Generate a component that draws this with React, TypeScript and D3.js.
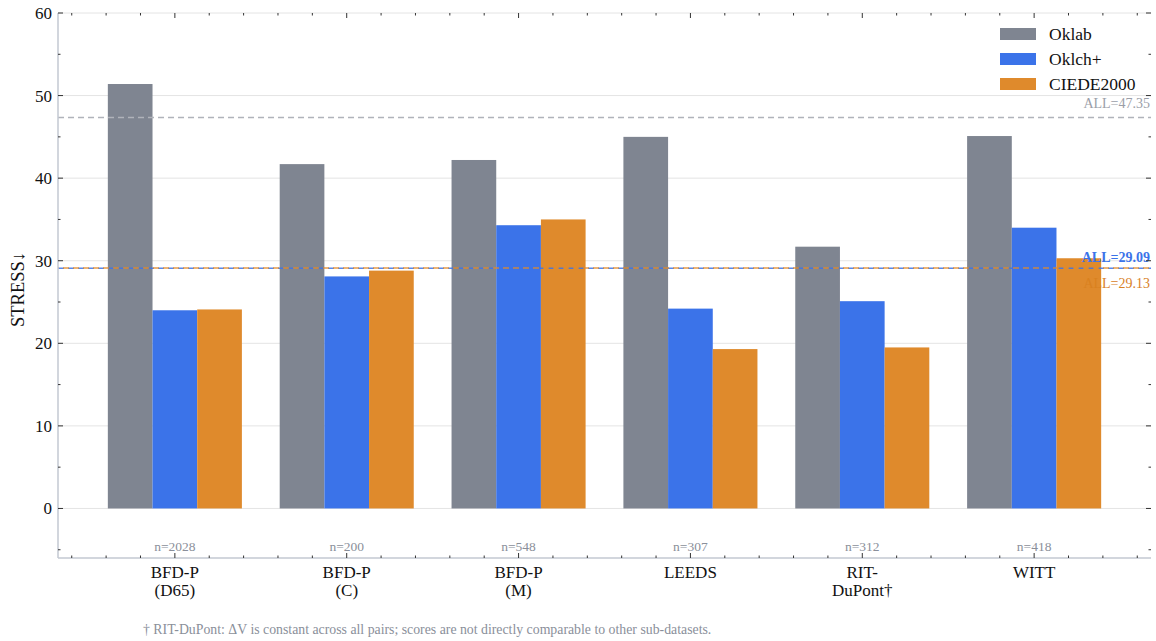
import React from "react";
import * as d3 from "d3";

const categories = ["BFD-P\n(D65)", "BFD-P\n(C)", "BFD-P\n(M)", "LEEDS", "RIT-\nDuPont†", "WITT"];
const counts = ["n=2028", "n=200", "n=548", "n=307", "n=312", "n=418"];
const seriesNames = ["Oklab", "Oklch+", "CIEDE2000"];
const oklab = [51.4, 41.7, 42.2, 45.0, 31.7, 45.1];
const oklch = [24.0, 28.1, 34.3, 24.2, 25.1, 34.0];
const ciede = [24.1, 28.8, 35.0, 19.3, 19.5, 30.3];
const allValues = [47.35, 29.09, 29.13];
const colors = ["#7f8591", "#3b73e9", "#df8a2c"];
const yTicks = [0, 10, 20, 30, 40, 50, 60];
const footnote = "† RIT-DuPont: ΔV is constant across all pairs; scores are not directly comparable to other sub-datasets.";

const W = 1156, H = 641;
const left = 58, right = 1151, top = 13, bottom = 558;
const font = "'Liberation Serif', 'Times New Roman', serif";

export default function App() {
  const x = d3.scaleLinear().domain([-0.68, 5.68]).range([left, right]);
  const y = d3.scaleLinear().domain([-6, 60]).range([bottom, top]);
  const series = [oklab, oklch, ciede];
  const bw = 0.26;
  const minorX = d3.range(-3, 29).map((i) => i * 0.2).filter((v) => v > -0.68 && v < 5.68 && Math.abs(v - Math.round(v)) > 0.01);
  const minorY = [-5, 5, 15, 25, 35, 45, 55];
  const tickCol = "#333";
  const allLabelStyle = [
    { fill: "#9a9ea8", dy: -9, weight: 400 },
    { fill: "#3b73e9", dy: -6, weight: 700 },
    { fill: "#d9811f", dy: 20, weight: 400 },
  ];
  return (
    <svg width={W} height={H} style={{ position: "absolute", left: 0, top: 0, background: "#fff" }} fontFamily={font}>
      {yTicks.map((t) => (
        <line key={"g" + t} x1={left} x2={right} y1={y(t)} y2={y(t)} stroke="#e4e4e4" strokeWidth={1} />
      ))}
      {series.map((s, si) =>
        s.map((v, ci) => (
          <rect
            key={si + "-" + ci}
            x={x(ci + (si - 1.5) * bw)}
            width={x(bw) - x(0)}
            y={y(v)}
            height={y(0) - y(v)}
            fill={colors[si]}
          />
        ))
      )}
      <line x1={left} x2={right} y1={y(allValues[0])} y2={y(allValues[0])} stroke="#b0b3ba" strokeWidth={1.5} strokeDasharray="6,4" />
      <line x1={left} x2={right} y1={y(allValues[1])} y2={y(allValues[1])} stroke={colors[1]} strokeWidth={1.5} strokeDasharray="6,4" strokeOpacity={0.85} />
      <line x1={left} x2={right} y1={y(allValues[2])} y2={y(allValues[2])} stroke={colors[2]} strokeWidth={1.5} strokeDasharray="6,4" strokeDashoffset={5} strokeOpacity={0.85} />
      {allValues.map((v, i) => (
        <text key={"al" + i} x={1150} y={y(v) + allLabelStyle[i].dy} textAnchor="end" fontSize={14} fill={allLabelStyle[i].fill} fontWeight={allLabelStyle[i].weight}>
          {"ALL=" + v.toFixed(2)}
        </text>
      ))}
      <line x1={left} x2={left} y1={top} y2={bottom} stroke="#c3c8d2" strokeWidth={1.5} />
      <line x1={left} x2={right} y1={bottom} y2={bottom} stroke="#c3c8d2" strokeWidth={1.5} />
      {yTicks.map((t) => (
        <g key={"yt" + t}>
          <line x1={left} x2={left + 5} y1={y(t)} y2={y(t)} stroke={tickCol} />
          <line x1={right} x2={right - 5} y1={y(t)} y2={y(t)} stroke={tickCol} />
          <text x={left - 6} y={y(t)} dy="0.35em" textAnchor="end" fontSize={17} fill="#111">{t}</text>
        </g>
      ))}
      {minorY.map((t) => (
        <g key={"ym" + t}>
          <line x1={left} x2={left + 2.5} y1={y(t)} y2={y(t)} stroke={tickCol} />
          <line x1={right} x2={right - 2.5} y1={y(t)} y2={y(t)} stroke={tickCol} />
        </g>
      ))}
      {categories.map((c, i) => (
        <g key={"xt" + i}>
          <line x1={x(i)} x2={x(i)} y1={bottom} y2={bottom - 5} stroke={tickCol} />
          <line x1={x(i)} x2={x(i)} y1={top} y2={top + 5} stroke={tickCol} />
          {c.split("\n").map((ln, li) => (
            <text key={li} x={x(i)} y={578 + li * 18} textAnchor="middle" fontSize={17} fill="#111">{ln}</text>
          ))}
          <text x={x(i)} y={551} textAnchor="middle" fontSize={13.5} fill="#8a8f9a">{counts[i]}</text>
        </g>
      ))}
      {minorX.map((v, i) => (
        <g key={"xm" + i}>
          <line x1={x(v)} x2={x(v)} y1={bottom} y2={bottom - 2.5} stroke={tickCol} />
          <line x1={x(v)} x2={x(v)} y1={top} y2={top + 2.5} stroke={tickCol} />
        </g>
      ))}
      <text transform={`translate(24,${(top + bottom) / 2 + 4}) rotate(-90)`} textAnchor="middle" fontSize={18.5} fill="#111">STRESS↓</text>
      {seriesNames.map((n, i) => (
        <g key={"lg" + i}>
          <rect x={1000} y={28 + i * 25} width={36} height={12} fill={colors[i]} />
          <text x={1049} y={40 + i * 25} fontSize={17.5} fill="#111">{n}</text>
        </g>
      ))}
      <text x={143} y={634} fontSize={13.8} fill="#8a8f9a">{footnote}</text>
    </svg>
  );
}
